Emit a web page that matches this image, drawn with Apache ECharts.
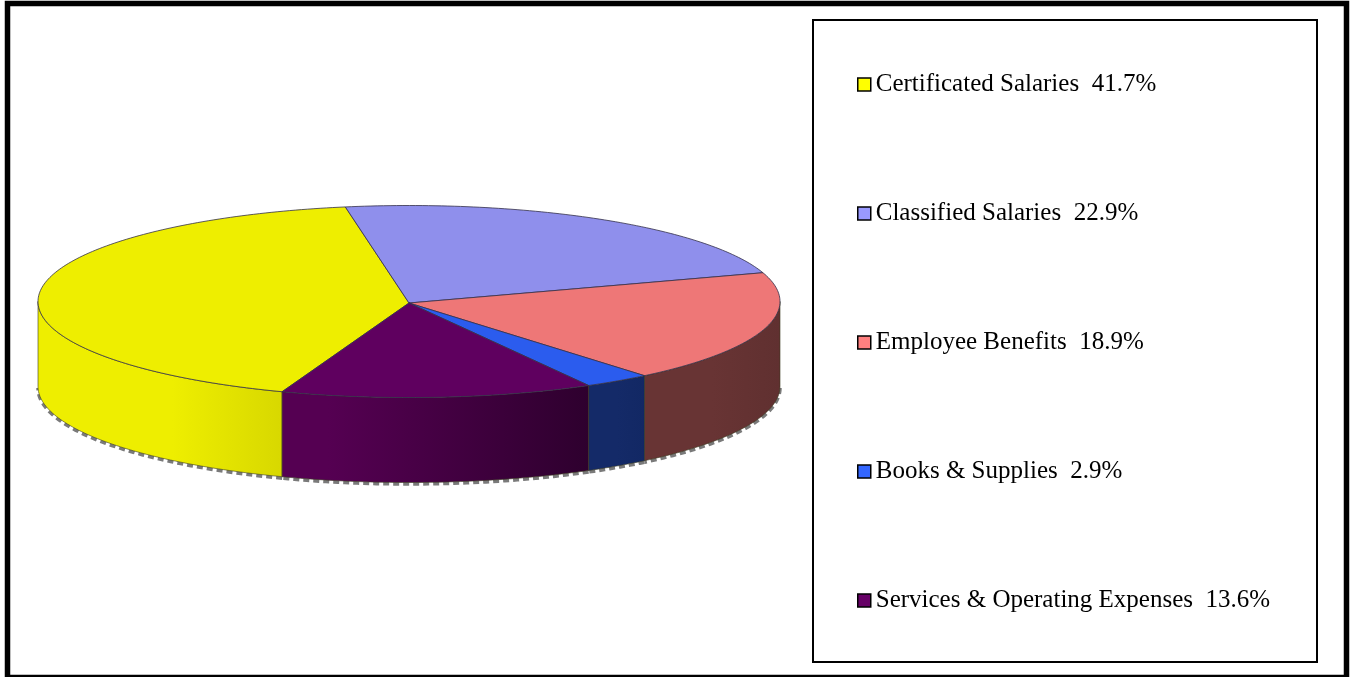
<!DOCTYPE html>
<html>
<head>
<meta charset="utf-8">
<style>html,body{margin:0;padding:0;background:#fff}#c{width:1351px;height:677px}</style>
<script src="https://cdn.jsdelivr.net/npm/echarts@6/dist/echarts.min.js"></script>
</head>
<body>
<div id="c"></div>
<script>
var categories = ['Certificated Salaries', 'Classified Salaries', 'Employee Benefits', 'Books & Supplies', 'Services & Operating Expenses'];
var shares = [41.7, 22.9, 18.9, 2.9, 13.6];
var legendColors = ['#ffff00', '#9999ff', '#ff8080', '#3366ff', '#660066'];
var topColors = ['#eeee00', '#8f8fec', '#ee7777', '#2b5cee', '#5f005f'];
var sideLeft = ['#eeee00', '#8080d0', '#683434', '#142a68', '#550052'];
var sideRight = ['#d8d800', '#8080d0', '#603030', '#122864', '#2e002e'];
var sideHold = [0.55, 0.5, 0.5, 0.5, 0.15];

var START_DEG = 200, CX = 409, CY = 301.5, RX = 371, RY = 96, APEX_Y = 303, DEPTH = 85;
var total = shares.reduce(function (a, b) { return a + b; }, 0);

function rimPoint(deg, dy) {
  var t = deg * Math.PI / 180;
  return [CX + RX * Math.sin(t), CY - RY * Math.cos(t) + (dy || 0)];
}
function arc(from, to, dy) {
  var pts = [], n = Math.max(2, Math.ceil(Math.abs(to - from)));
  for (var i = 0; i <= n; i++) pts.push(rimPoint(from + (to - from) * i / n, dy));
  return pts;
}
function sliceItem(index) {
  return function (params, api) {
    var before = 0;
    for (var i = 0; i < index; i++) before += shares[i];
    var a0 = START_DEG + before / total * 360;
    var a1 = a0 + api.value(0) / total * 360;
    var children = [];
    // visible wall: the part of the rim facing the viewer (90..270 deg)
    var ranges = [[a0, a1], [a0 - 360, a1 - 360], [a0 + 360, a1 + 360]];
    ranges.forEach(function (r) {
      var lo = Math.max(r[0], 90), hi = Math.min(r[1], 270);
      if (hi <= lo) return;
      var topArc = arc(lo, hi, 0), botArc = arc(hi, lo, DEPTH);
      children.push({
        type: 'polyline', silent: true,
        shape: { points: arc(lo, hi, DEPTH + 1.5) },
        style: { fill: null, stroke: '#7a7a7a', lineWidth: 3.5, lineDash: [6, 4] }
      });
      children.push({
        type: 'polygon', silent: true,
        shape: { points: topArc.concat(botArc) },
        style: {
          fill: new echarts.graphic.LinearGradient(0, 0, 1, 0, [
            { offset: 0, color: sideLeft[index] },
            { offset: sideHold[index], color: sideLeft[index] },
            { offset: 1, color: sideRight[index] }
          ]),
          stroke: '#3a3a20', lineWidth: 0.6
        }
      });
    });
    children.push({
      type: 'polygon', silent: true,
      shape: { points: [[CX, APEX_Y]].concat(arc(a0, a1, 0)) },
      style: { fill: topColors[index], stroke: '#33304a', lineWidth: 0.8 }
    });
    return { type: 'group', children: children };
  };
}

var series = categories.map(function (name, i) {
  return {
    type: 'custom',
    name: name + '  ' + shares[i] + '%',
    coordinateSystem: 'none',
    renderItem: sliceItem(i),
    data: [[shares[i]]],
    itemStyle: { color: legendColors[i] },
    animation: false,
    silent: true
  };
});

var chart = echarts.init(document.getElementById('c'), null, { renderer: 'canvas' });
chart.setOption({
  animation: false,
  backgroundColor: '#ffffff',
  tooltip: { show: false },
  graphic: [
    { type: 'rect', silent: true, z: 0, shape: { x: 7.5, y: 3.5, width: 1339, height: 674 },
      style: { fill: '#fff', stroke: '#000', lineWidth: 5.5 } },
    { type: 'rect', silent: true, z: 0, shape: { x: 813, y: 20, width: 504, height: 642 },
      style: { fill: '#fff', stroke: '#000', lineWidth: 2 } }
  ],
  legend: {
    orient: 'vertical',
    left: 857, top: 72,
    padding: 0,
    itemWidth: 13, itemHeight: 13,
    itemGap: 104,
    selectedMode: false,
    icon: 'rect',
    z: 10,
    itemStyle: { borderColor: '#000', borderWidth: 1.5 },
    textStyle: { fontFamily: '"Liberation Serif", "Times New Roman", serif', fontSize: 25, color: '#000', padding: 0 },
    data: series.map(function (s) { return s.name; })
  },
  series: series
});
</script>
</body>
</html>
